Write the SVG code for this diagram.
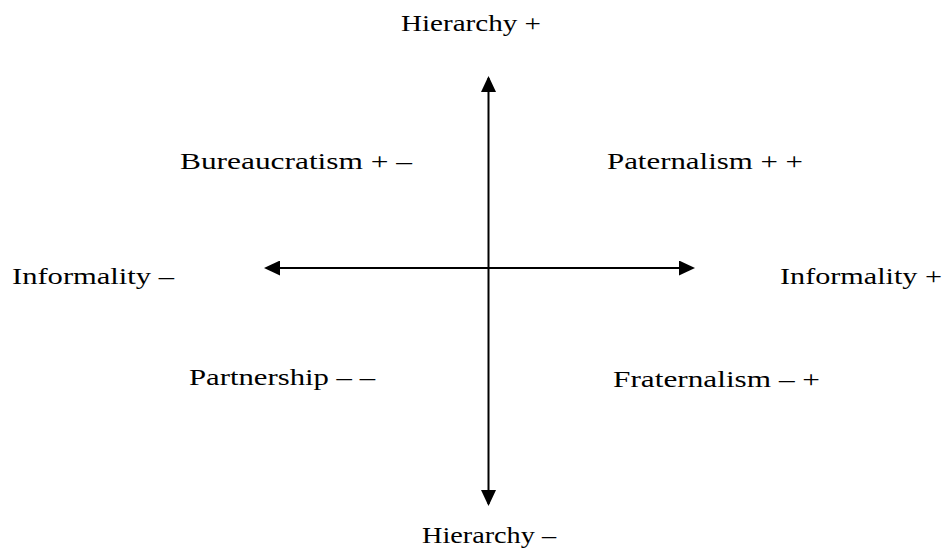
<svg xmlns="http://www.w3.org/2000/svg" width="946" height="552" viewBox="0 0 946 552">
  <style>
    .lbl { font-family: "Liberation Serif", "Times New Roman", serif; font-size: 24px; fill: #000; }
    .axis { stroke: #000; stroke-width: 2; fill: none; }
  </style>
  <defs>
    <marker id="arrow" markerUnits="userSpaceOnUse" markerWidth="16" markerHeight="15" refX="14" refY="7.5" orient="auto-start-reverse">
      <path d="M0,0 L16,7.5 L0,15 z" fill="#000"/>
    </marker>
  </defs>
  <rect width="946" height="552" fill="#fff"/>
  <g id="connectors">
    <line class="axis" x1="488.5" y1="78" x2="488.5" y2="504" marker-start="url(#arrow)" marker-end="url(#arrow)"/>
    <line class="axis" x1="266" y1="268" x2="693" y2="268" marker-start="url(#arrow)" marker-end="url(#arrow)"/>
  </g>
  <g id="hierarchy-plus"><text class="lbl" x="401" y="31" textLength="140" lengthAdjust="spacingAndGlyphs">Hierarchy +</text></g>
  <g id="hierarchy-minus"><text class="lbl" x="422" y="543" textLength="134" lengthAdjust="spacingAndGlyphs">Hierarchy –</text></g>
  <g id="informality-minus"><text class="lbl" x="12" y="284" textLength="162" lengthAdjust="spacingAndGlyphs">Informality –</text></g>
  <g id="informality-plus"><text class="lbl" x="780" y="284" textLength="162" lengthAdjust="spacingAndGlyphs">Informality +</text></g>
  <g id="bureaucratism"><text class="lbl" x="180" y="169" textLength="232" lengthAdjust="spacingAndGlyphs">Bureaucratism + –</text></g>
  <g id="paternalism"><text class="lbl" x="607" y="169" textLength="196" lengthAdjust="spacingAndGlyphs">Paternalism + +</text></g>
  <g id="partnership"><text class="lbl" x="189" y="385" textLength="186" lengthAdjust="spacingAndGlyphs">Partnership – –</text></g>
  <g id="fraternalism"><text class="lbl" x="613" y="387" textLength="207" lengthAdjust="spacingAndGlyphs">Fraternalism – +</text></g>
</svg>
